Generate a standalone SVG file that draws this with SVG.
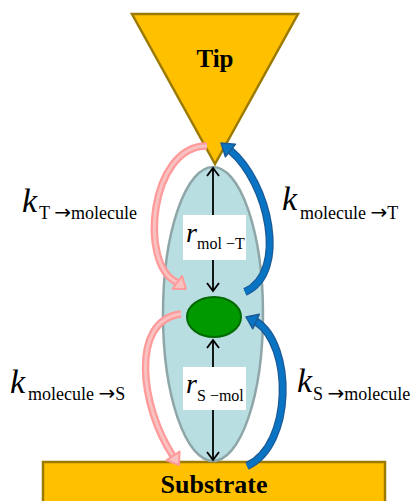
<svg xmlns="http://www.w3.org/2000/svg" width="414" height="501" viewBox="0 0 414 501">
<style>
.gold{fill:#FFC000;stroke:#9C7A00;stroke-width:2.5}
.lbl{font-family:"Liberation Serif","Times New Roman",serif;fill:#000}
.bold{font-weight:bold}
.k{font-style:italic;font-size:34px}
.sub{font-size:18px}
.ar{font-family:"DejaVu Sans",sans-serif;font-size:20px}
.r{font-style:italic;font-size:28px}
.rsub{font-size:16px}
.dist{stroke:#000;stroke-width:1.8;fill:none}
.pinkO{fill:none;stroke:#FF9A9A;stroke-width:7.5}
.pinkI{fill:none;stroke:#F9C2C2;stroke-width:3}
.pinkH{fill:#F9C2C2;stroke:#FF9A9A;stroke-width:2;stroke-linejoin:round}
.blueO{fill:none;stroke:#1C5A96;stroke-width:8}
.blueI{fill:none;stroke:#0A74C4;stroke-width:5.5}
.blueH{fill:#0A74C4;stroke:#1C5A96;stroke-width:1.5;stroke-linejoin:round}
</style>
<g id="substrate">
<rect class="gold" x="43" y="462" width="342" height="45"/>
<text class="lbl bold" x="214" y="493" font-size="26" text-anchor="middle">Substrate</text>
</g>
<g id="tip">
<polygon class="gold" points="132,14 298,14 215,164"/>
<text class="lbl bold" x="215" y="67" font-size="25" text-anchor="middle">Tip</text>
</g>
<g id="cloud">
<ellipse cx="213" cy="314" rx="50" ry="147" fill="#B8DEE2" stroke="#8FA6A8" stroke-width="2.5"/>
</g>
<g id="molecule">
<ellipse cx="214" cy="317" rx="27" ry="20" fill="#009A00" stroke="#006A00" stroke-width="2"/>
</g>
<g id="connectors">
<g id="r-mol-T">
<line class="dist" x1="213" y1="168" x2="213" y2="291"/>
<polyline class="dist" points="207,176 213,168 219,176"/>
<polyline class="dist" points="207,283 213,291 219,283"/>
</g>
<g id="r-S-mol">
<line class="dist" x1="213" y1="340" x2="213" y2="460"/>
<polyline class="dist" points="207,348 213,340 219,348"/>
<polyline class="dist" points="207,452 213,460 219,452"/>
</g>
<g id="k-T-mol">
<path class="pinkO" d="M 207 146 C 150 145, 138 265, 177.2 282.4"/>
<path class="pinkI" d="M 207 146 C 150 145, 138 265, 177.2 282.4"/>
<polygon class="pinkH" points="186,289 182,276 172.4,288.8"/>
</g>
<g id="k-mol-S">
<path class="pinkO" d="M 181 314 C 130 320, 140 406, 173 456"/>
<path class="pinkI" d="M 181 314 C 130 320, 140 406, 173 456"/>
<polygon class="pinkH" points="179,465 179.6,451.5 166.4,460.3"/>
</g>
<g id="k-mol-T">
<path class="blueO" d="M 245 292 C 289 272, 268 182, 230.4 150.5"/>
<path class="blueI" d="M 245 292 C 289 272, 268 182, 230.4 150.5"/>
<polygon class="blueH" points="221,143 235.4,144.3 225.4,156.7"/>
</g>
<g id="k-S-mol">
<path class="blueO" d="M 247 466 C 293 445, 293 345, 256 321.5"/>
<path class="blueI" d="M 247 466 C 293 445, 293 345, 256 321.5"/>
<polygon class="blueH" points="246,317 259.3,314.2 252.8,328.8"/>
</g>
</g>
<g id="labels">
<rect x="183" y="215" width="63" height="45" fill="#fff"/>
<text class="lbl"><tspan class="r" x="186" y="242">r</tspan><tspan class="rsub" x="197" y="249">mol −T</tspan></text>
<rect x="183" y="367" width="63" height="43" fill="#fff"/>
<text class="lbl"><tspan class="r" x="186" y="393">r</tspan><tspan class="rsub" x="197" y="401">S −mol</tspan></text>
<text class="lbl"><tspan class="k" x="22" y="212">k</tspan><tspan class="sub" x="39" y="219">T </tspan><tspan class="ar">→</tspan><tspan class="sub">molecule</tspan></text>
<text class="lbl"><tspan class="k" x="282" y="210">k</tspan><tspan class="sub" x="300" y="219">molecule </tspan><tspan class="ar">→</tspan><tspan class="sub">T</tspan></text>
<text class="lbl"><tspan class="k" x="10" y="393">k</tspan><tspan class="sub" x="28" y="400">molecule </tspan><tspan class="ar">→</tspan><tspan class="sub">S</tspan></text>
<text class="lbl"><tspan class="k" x="297" y="392">k</tspan><tspan class="sub" x="313" y="400">S </tspan><tspan class="ar">→</tspan><tspan class="sub">molecule</tspan></text>
</g>
</svg>
